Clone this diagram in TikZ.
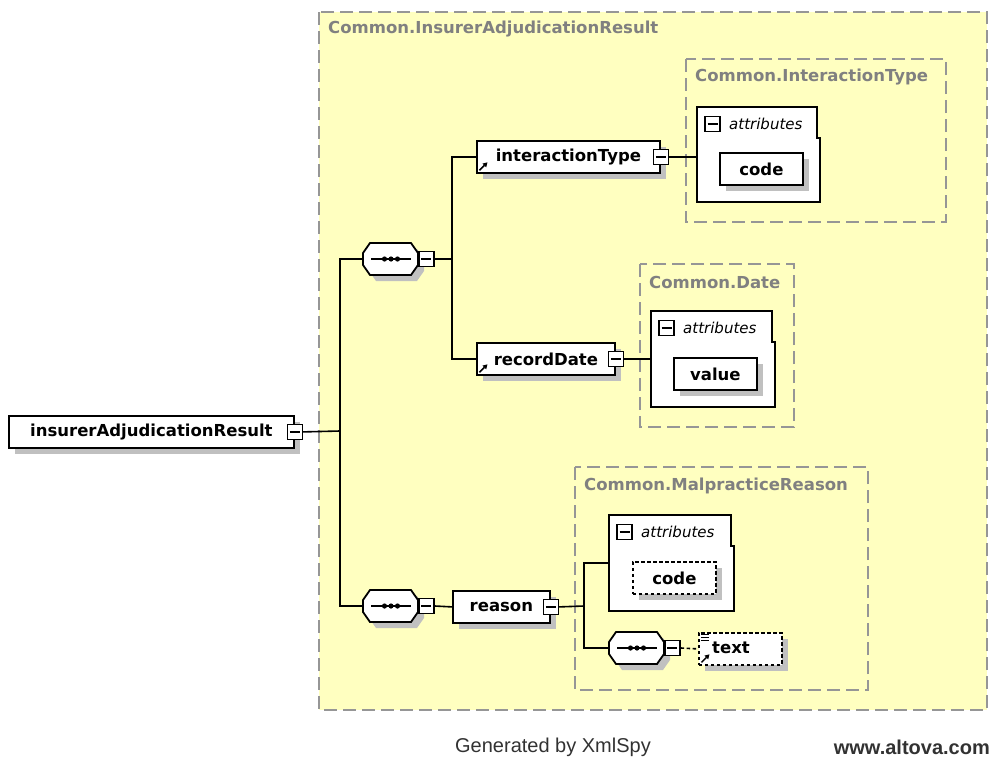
\documentclass[tikz,border=0pt]{standalone}
\usepackage{fontspec}
\setmainfont{DejaVu Sans}
\newfontfamily\libsans{Liberation Sans}
\usetikzlibrary{shadows,arrows.meta,calc}
\definecolor{bgyellow}{RGB}{255,255,192}
\definecolor{dashgray}{RGB}{150,150,150}
\definecolor{titlegray}{RGB}{128,128,128}
\definecolor{shadowgray}{RGB}{192,192,192}
\definecolor{footgray}{RGB}{50,50,50}
\tikzset{
  container/.style={draw=dashgray, fill=bgyellow, line width=1.6pt, dash pattern=on 13pt off 6pt},
  ctitle/.style={anchor=west, inner sep=0, text=titlegray, font=\fontsize{16.5}{18}\selectfont\bfseries},
  elbox/.style={draw, fill=white, line width=1.8pt, inner sep=0, minimum height=32pt,
    font=\fontsize{16.5}{18}\selectfont\bfseries,
    drop shadow={shadow xshift=6pt, shadow yshift=-6pt, fill=shadowgray, opacity=1}},
  optbox/.style={elbox, dash pattern=on 3.5pt off 2.5pt},
  minus/.style={draw, fill=white, line width=1.5pt, minimum size=15pt, inner sep=0,
    path picture={\draw[line width=1.5pt] ([xshift=2.5pt]path picture bounding box.west) -- ([xshift=-2.5pt]path picture bounding box.east);}},
  conn/.style={line width=1.6pt},
  attrtext/.style={anchor=west, inner sep=0, font=\fontsize{15}{17}\selectfont\itshape},
  lbl/.style={anchor=west, inner sep=0, font=\fontsize{16.5}{18}\selectfont\bfseries},
  iconarrow/.style={line width=1.5pt, -{Triangle[length=4.5pt,width=5pt]}},
  attrshape/.style={draw, fill=white, line width=1.8pt},
  seqshape/.style={draw, fill=white, line width=1.8pt},
}
\newcommand\octpath{(-20.5,-16) -- (20.5,-16) -- (27.5,-6) -- (27.5,6) -- (20.5,16) -- (-20.5,16) -- (-27.5,6) -- (-27.5,-6) -- cycle}
\newcommand\seqnode[3]{%
  \node[minimum width=55pt, minimum height=32pt, inner sep=0] (#1) at (#2,#3) {};
  \begin{scope}[shift={(#2,#3)}]
    \begin{scope}[shift={(6,6)}]
      \fill[shadowgray] \octpath;
    \end{scope}
    \path[seqshape] \octpath;
    \draw[line width=1.5pt] (-19.5,0) -- (20.5,0);
    \fill (-6,0) circle (2.6) (0.5,0) circle (2.6) (7,0) circle (2.6);
  \end{scope}}
\newcommand\attrbox[6]{%
  \node[inner sep=0, minimum width={#4-#2}, minimum height={#5-#3}, anchor=north west] (#1) at (#2,#3) {};
  \path[attrshape] (#2,#3) -- ({#4-3},#3) -- ({#4-3},#6) -- (#4,#6) -- (#4,#5) -- (#2,#5) -- cycle;}
\begin{document}
\begin{tikzpicture}[x=1pt,y=-1pt]
\useasboundingbox (0,0) rectangle (994,758);
% containers
\path[container] (319,12) rectangle (987,710);
\node[ctitle] (t0) at (328,29) {Common.InsurerAdjudicationResult};
\path[container] (686,59) rectangle (946,222);
\node[ctitle] (t1) at (695,77) {Common.InteractionType};
\path[container] (640,264) rectangle (794,427);
\node[ctitle] (t2) at (649,282) {Common.Date};
\path[container] (575,467) rectangle (868,690);
\node[ctitle] (t3) at (584,486) {Common.MalpracticeReason};
% root
\node[elbox, minimum width=285pt, anchor=north west] (root) at (8,415) {insurerAdjudicationResult};
\node[minus] (rootm) at (root.east) {};
% sequences
\seqnode{s1}{390.5}{259}
\node[minus, anchor=west] (s1m) at (s1.east) {};
\seqnode{s2}{390.5}{606}
\node[minus, anchor=west] (s2m) at (s2.east) {};
% elements
\node[elbox, minimum width=183pt, anchor=north west] (it) at (476,140) {interactionType};
\node[minus] (itm) at (it.east) {};
\draw[iconarrow] ($(it.south west)+(3.5,-3.5)$) -- ++(8,-8);
\node[elbox, minimum width=138pt, anchor=north west] (rd) at (476,342) {recordDate};
\node[minus] (rdm) at (rd.east) {};
\draw[iconarrow] ($(rd.south west)+(3.5,-3.5)$) -- ++(8,-8);
\node[elbox, minimum width=97pt, anchor=north west] (rs) at (452,590) {reason};
\node[minus] (rsm) at (rs.east) {};
% attributes 1
\attrbox{a1}{697}{107}{820}{202}{138}
\node[minus] (a1m) at (712.5,124) {};
\node[attrtext] (a1t) at (729,124) {attributes};
\node[elbox, minimum width=83pt, anchor=north west] (c1) at (719,152) {code};
% attributes 2
\attrbox{a2}{651}{311}{775}{407}{342}
\node[minus] (a2m) at (666.5,328) {};
\node[attrtext] (a2t) at (683,328) {attributes};
\node[elbox, minimum width=83pt, anchor=north west] (v2) at (673,357) {value};
% attributes 3
\attrbox{a3}{609}{515}{734}{611}{546}
\node[minus] (a3m) at (624.5,532) {};
\node[attrtext] (a3t) at (641,532) {attributes};
\node[optbox, minimum width=83pt, anchor=north west] (c3) at (632,561) {code};
% sequence 3 and text
\seqnode{s3}{636.5}{648}
\node[minus, anchor=west] (s3m) at (s3.east) {};
\node[optbox, minimum width=83pt, anchor=north west] (tx) at (698,632) {};
\node[lbl] (txl) at (712,648) {text};
\draw[iconarrow] ($(tx.south west)+(3.5,-3.5)$) -- ++(8,-8);
\draw[line width=1.2pt] (701,634.5) -- (709,634.5) (701,637.5) -- (709,637.5) (701,640.5) -- (709,640.5);
% connectors
\coordinate (j1) at (340,431);
\draw[conn] (rootm.east) -- (j1);
\draw[conn] (s1.west) -| (j1) |- (s2.west);
\coordinate (j2) at (452,259);
\draw[conn] (s1m.east) -- (j2);
\draw[conn] (it.west) -| (j2) |- (rd.west);
\draw[conn] (itm.east) -- (itm.east -| a1.west);
\draw[conn] (rdm.east) -- (rdm.east -| a2.west);
\draw[conn] (s2m.east) -- (rs.west);
\coordinate (j3) at (584,606);
\draw[conn] (rsm.east) -- (j3);
\draw[conn] (a3.west) -| (j3) |- (s3.west);
\draw[conn, dash pattern=on 3.5pt off 2.5pt] (s3m.east) -- (tx.west);
% footer
\node[font=\libsans\fontsize{20}{22}\selectfont, text=footgray, inner sep=0] (gen) at (553,747) {Generated by XmlSpy};
\node[font=\libsans\bfseries\fontsize{20}{22}\selectfont, text=footgray, anchor=east, inner sep=0] (www) at (990,747) {www.altova.com};
\end{tikzpicture}
\end{document}
